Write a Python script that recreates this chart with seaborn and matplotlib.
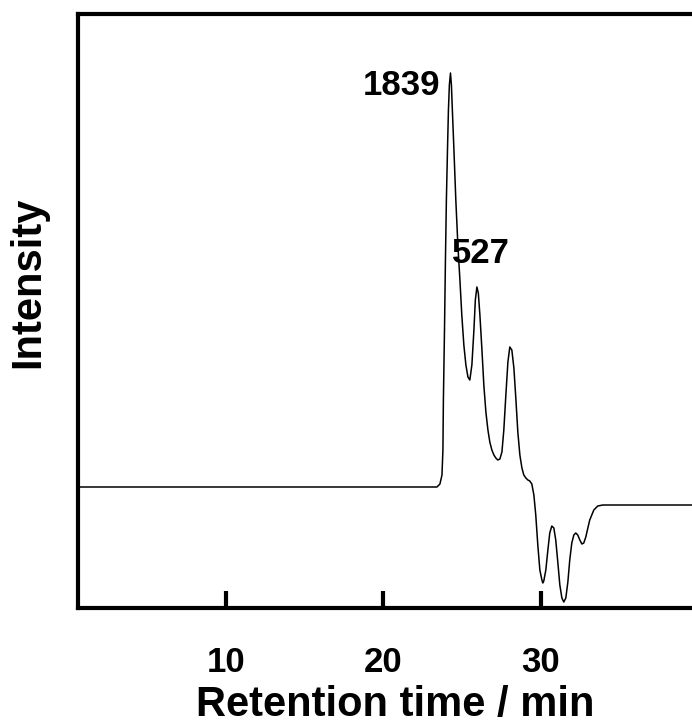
import numpy as np
import pandas as pd
import seaborn as sns
import matplotlib.pyplot as plt

# --- GPC trace (retention time in min, arbitrary intensity) ---
time_min = [0.6, 22.97, 23.41, 23.60, 23.73, 23.79, 23.82, 23.89, 23.95, 24.01,
            24.08, 24.14, 24.20, 24.27, 24.33, 24.39, 24.49, 24.61, 24.74, 24.87,
            24.99, 25.12, 25.25, 25.38, 25.50, 25.63, 25.76, 25.85, 25.95, 26.04,
            26.14, 26.27, 26.39, 26.52, 26.65, 26.77, 26.90, 27.03, 27.15, 27.28,
            27.41, 27.54, 27.66, 27.79, 27.92, 28.04, 28.17, 28.30, 28.43, 28.55,
            28.68, 28.81, 28.93, 29.06, 29.19, 29.31, 29.44, 29.57, 29.69, 29.82,
            29.95, 30.08, 30.14, 30.20, 30.33, 30.46, 30.58, 30.71, 30.84, 30.96,
            31.09, 31.22, 31.35, 31.47, 31.60, 31.73, 31.85, 31.98, 32.11, 32.23,
            32.36, 32.49, 32.62, 32.74, 32.87, 33.00, 33.12, 33.38, 33.63, 33.95,
            40.0]
intensity = [121, 121, 121, 124, 133, 158, 208, 278, 348, 408,
             458, 498, 523, 535, 523, 498, 458, 408, 363, 328,
             293, 263, 243, 231, 228, 243, 278, 308, 321, 315,
             293, 258, 223, 196, 178, 166, 158, 153, 150, 148,
             149, 156, 178, 213, 246, 261, 258, 240, 208, 176,
             153, 140, 133, 130, 128, 127, 124, 113, 93, 63,
             38, 28, 25, 27, 38, 58, 75, 82, 80, 68,
             46, 23, 10, 6, 10, 26, 48, 65, 73, 75,
             73, 68, 64, 65, 71, 80, 88, 98, 102, 103,
             103]

peak_labels = ["1839", "527"]
peak_pos = [(23.6, 513), (24.37, 345)]
xticks = [10, 20, 30]

df = pd.DataFrame({"t": time_min, "I": intensity})

sns.set_theme(style="white")
plt.rcParams["font.family"] = ["Liberation Sans", "DejaVu Sans"]
plt.rcParams["font.weight"] = "bold"
plt.rcParams["text.color"] = "black"
plt.rcParams["axes.labelcolor"] = "black"

fig = plt.figure(figsize=(6.92, 7.27), dpi=100)
ax = fig.add_axes([78 / 692, 119 / 727, 620 / 692, 594 / 727])

sns.lineplot(data=df, x="t", y="I", ax=ax, color="black", lw=1.1, sort=False)

ax.set_xlim(0.6, 40)
ax.set_ylim(0, 594)
ax.set_xticks(xticks)
ax.set_yticks([])
ax.tick_params(axis="x", bottom=True, direction="in", length=12, width=3, pad=27,
               labelsize=25, colors="black")
for lbl in ax.get_xticklabels():
    lbl.set_fontweight("bold")
for s in ax.spines.values():
    s.set_linewidth(3)
    s.set_color("black")

ax.set_xlabel("Retention time / min", fontsize=30, fontweight="bold")
ax.xaxis.set_label_coords(0.511, -0.163)
ax.xaxis.label.set_va("center")
ax.set_ylabel("Intensity", fontsize=30, fontweight="bold")
ax.yaxis.set_label_coords(-0.0806, 0.549)
ax.yaxis.label.set_va("center")

ax.text(*peak_pos[0], peak_labels[0], ha="right", va="baseline",
        fontsize=25, fontweight="bold")
ax.text(*peak_pos[1], peak_labels[1], ha="left", va="baseline",
        fontsize=25, fontweight="bold")

fig.savefig("out.png", dpi=100)
